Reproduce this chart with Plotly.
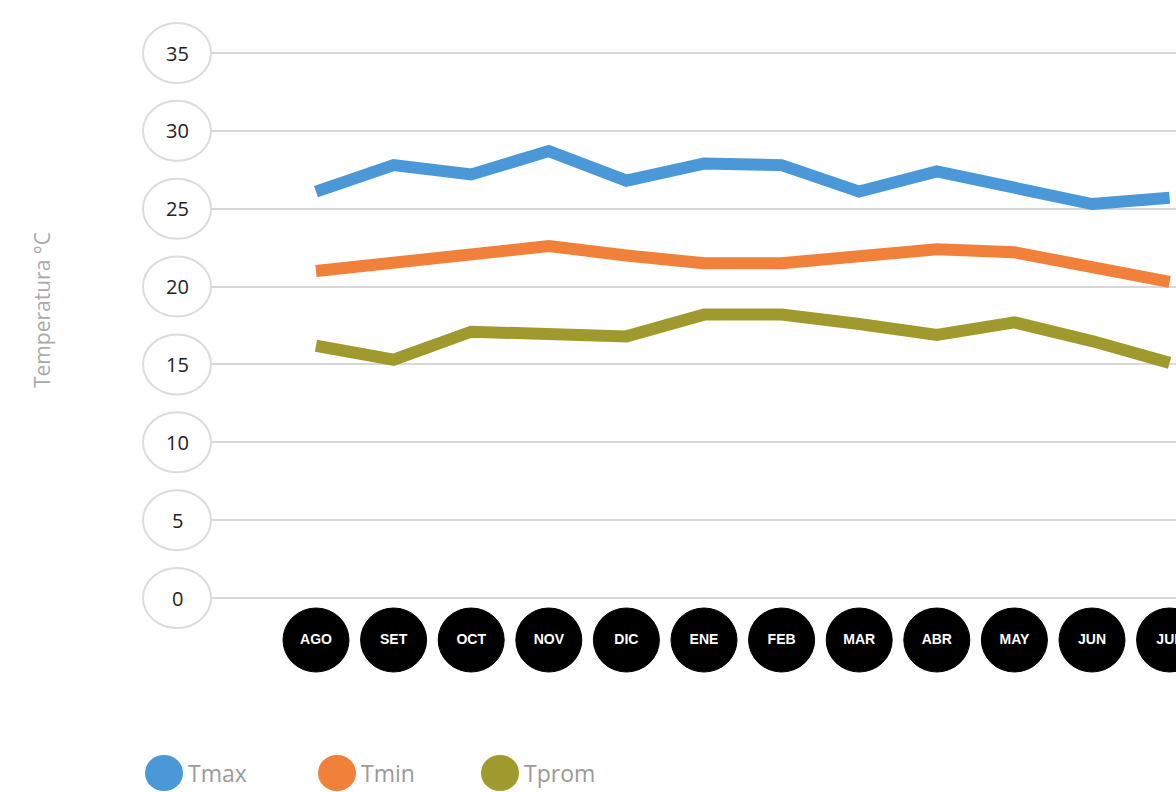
import plotly.graph_objects as go

# ---- data ----
months = ["AGO", "SET", "OCT", "NOV", "DIC", "ENE", "FEB", "MAR", "ABR", "MAY", "JUN", "JUL"]
tmax = [26.1, 27.8, 27.2, 28.7, 26.8, 27.9, 27.8, 26.1, 27.4, 26.4, 25.3, 25.7]
tmin = [21.0, 21.5, 22.1, 22.6, 22.0, 21.5, 21.5, 21.9, 22.4, 22.2, 21.2, 20.3]
tprom = [16.2, 15.3, 17.1, 17.0, 16.8, 18.2, 18.2, 17.6, 16.9, 17.7, 16.5, 15.1]
y_ticks = [0, 5, 10, 15, 20, 25, 30, 35]
series_names = ["Tmax", "Tmin", "Tprom"]
series_colors = ["#4a98d8", "#f0803a", "#a09a2e"]

# ---- layout geometry (pixels) ----
W, H = 1176, 792
L, R, T, B = 205, 0, 15, 92
plot_w = W - L - R
plot_h = H - T - B
x0_px, x_step = 316, 77.6
y0_px, y_step = 598, (598 - 53) / 35.0

x_rng = [(L - x0_px) / x_step, (W - R - x0_px) / x_step]
y_rng = [-(H - B - y0_px) / y_step, 35 + (53 - T) / y_step]


def px_to_paper_x(px):
    return (px - L) / plot_w


def px_to_paper_y(py):
    return (H - B - py) / plot_h


month_y = (y0_px - 640) / y_step

xs = list(range(len(months)))

fig = go.Figure()
for name, vals, col in zip(series_names, [tmax, tmin, tprom], series_colors):
    fig.add_trace(go.Scatter(
        x=xs, y=vals, mode="lines", name=name,
        line=dict(color=col, width=12), showlegend=False, hoverinfo="skip"))

# month labels (text inside black circles)
fig.add_trace(go.Scatter(
    x=xs, y=[month_y] * len(months), mode="text", text=months,
    textfont=dict(family="Liberation Sans Narrow, Liberation Sans, Arial", size=14, color="white", weight="bold"),
    showlegend=False, hoverinfo="skip", cliponaxis=True))

shapes = []
annotations = []

# month circles
for i in xs:
    shapes.append(dict(
        type="circle", xref="x", yref="y", xsizemode="pixel", ysizemode="pixel",
        xanchor=i, yanchor=month_y, x0=-33, x1=33, y0=-32, y1=32,
        fillcolor="#000000", line=dict(color="#000000", width=1), layer="below"))

# y tick circles + labels
tick_cx = px_to_paper_x(177)
for v in y_ticks:
    shapes.append(dict(
        type="circle", xref="paper", yref="y", xsizemode="pixel", ysizemode="pixel",
        xanchor=tick_cx, yanchor=v, x0=-34, x1=34, y0=-30, y1=30,
        fillcolor="white", line=dict(color="#dcdcdc", width=2), layer="above"))
    annotations.append(dict(
        xref="paper", yref="y", x=tick_cx, y=v, text=str(v), showarrow=False,
        font=dict(family="Open Sans", size=20, color="#222222"),
        xanchor="center", yanchor="middle"))

# y axis title
annotations.append(dict(
    xref="paper", yref="paper", x=px_to_paper_x(42), y=px_to_paper_y(310),
    text="Temperatura °C", textangle=-90, showarrow=False,
    font=dict(family="Open Sans", size=21, color="#aaaaaa"),
    xanchor="center", yanchor="middle"))

# legend
legend_cx = [164, 337, 500]
leg_y = px_to_paper_y(773)
for cx, name, col in zip(legend_cx, series_names, series_colors):
    shapes.append(dict(
        type="circle", xref="paper", yref="paper", xsizemode="pixel", ysizemode="pixel",
        xanchor=px_to_paper_x(cx), yanchor=leg_y, x0=-19, x1=19, y0=-18, y1=18,
        fillcolor=col, line=dict(color=col, width=0), layer="above"))
    annotations.append(dict(
        xref="paper", yref="paper", x=px_to_paper_x(cx + 22), y=leg_y,
        text=name, showarrow=False,
        font=dict(family="Open Sans", size=23, color="#9a9a9a"),
        xanchor="left", yanchor="middle"))

fig.update_layout(
    width=W, height=H,
    margin=dict(l=L, r=R, t=T, b=B, pad=0),
    paper_bgcolor="white", plot_bgcolor="white",
    showlegend=False,
    xaxis=dict(range=x_rng, visible=False, showgrid=False, zeroline=False, fixedrange=True),
    yaxis=dict(range=y_rng, tickvals=y_ticks, showticklabels=False, showgrid=True,
               gridcolor="#d8d8d8", gridwidth=2, zeroline=False, ticks="", showline=False,
               fixedrange=True),
    shapes=shapes, annotations=annotations,
)

fig.write_html(
    "out.html",
    config={"displayModeBar": False},
    post_script="document.body.style.margin='0';document.body.style.overflow='hidden';",
)
